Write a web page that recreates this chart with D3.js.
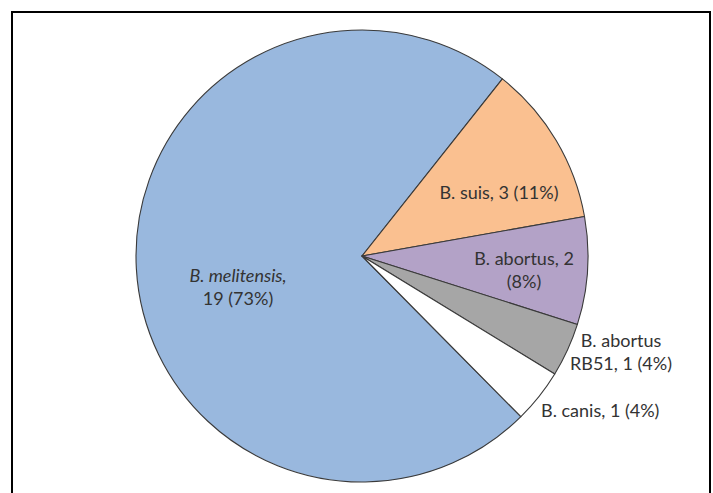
<!DOCTYPE html>
<html>
<head>
<meta charset="utf-8">
<script src="https://cdn.jsdelivr.net/npm/d3@7"></script>
<style>
  html, body { margin: 0; padding: 0; background: #fff; }
  svg { display: block; }
  text { font-family: Lato, "Open Sans", sans-serif; fill: #333; }
</style>
</head>
<body>
<svg id="chart" width="713" height="493"></svg>
<script>
// ---- data ----
const categories = ["B. melitensis", "B. suis", "B. abortus", "B. abortus RB51", "B. canis"];
const counts = [19, 3, 2, 1, 1];
const percents = ["73%", "11%", "8%", "4%", "4%"];
const colors = ["#99B8DE", "#FAC090", "#B3A2C7", "#A6A6A6", "#FFFFFF"];
// label lines (text only)
const labelLines = [
  ["B. melitensis,", "19 (73%)"],
  ["B. suis, 3 (11%)"],
  ["B. abortus, 2", "(8%)"],
  ["B. abortus", "RB51, 1 (4%)"],
  ["B. canis, 1 (4%)"]
];

// ---- layout ----
const W = 713, H = 493;
const cx = 362, cy = 256, R = 226;
const boundaryDeg = 38.4; // melitensis/suis boundary, clockwise from 12 o'clock
const total = d3.sum(counts);
const start = boundaryDeg * Math.PI / 180 - 2 * Math.PI * counts[0] / total;

const svg = d3.select("#chart");
svg.append("rect").attr("width", W).attr("height", H).attr("fill", "#fff");

// frame
svg.append("rect")
  .attr("x", 12).attr("y", 12)
  .attr("width", 698).attr("height", 500)
  .attr("fill", "none").attr("stroke", "#000").attr("stroke-width", 2);

const pie = d3.pie().sort(null).value(d => d)
  .startAngle(start).endAngle(start + 2 * Math.PI);
const arcs = pie(counts);
const arc = d3.arc().innerRadius(0).outerRadius(R);

const g = svg.append("g").attr("transform", `translate(${cx},${cy})`);
g.selectAll("path.slice").data(arcs).enter().append("path")
  .attr("class", "slice")
  .attr("d", arc)
  .attr("fill", (d, i) => colors[i])
  .attr("stroke", "#3a3a3a")
  .attr("stroke-width", 1.1)
  .attr("stroke-linejoin", "round");

// label positions (absolute page coords of first baseline, anchor)
const labelPos = [
  { x: 238, y: 282, anchor: "middle", italic: [true, false] },
  { x: 499, y: 199, anchor: "middle", italic: [false] },
  { x: 524, y: 265, anchor: "middle", italic: [false, false] },
  { x: 621, y: 347, anchor: "middle", italic: [false, false] },
  { x: 541, y: 417, anchor: "start", italic: [false] }
];
const lineH = 23;

labelLines.forEach((lines, i) => {
  const p = labelPos[i];
  const t = svg.append("text")
    .attr("text-anchor", p.anchor)
    .attr("font-size", "18px");
  lines.forEach((ln, j) => {
    t.append("tspan")
      .attr("x", p.x)
      .attr("y", p.y + j * lineH)
      .attr("font-style", p.italic[j] ? "italic" : "normal")
      .text(ln);
  });
});
</script>
</body>
</html>
